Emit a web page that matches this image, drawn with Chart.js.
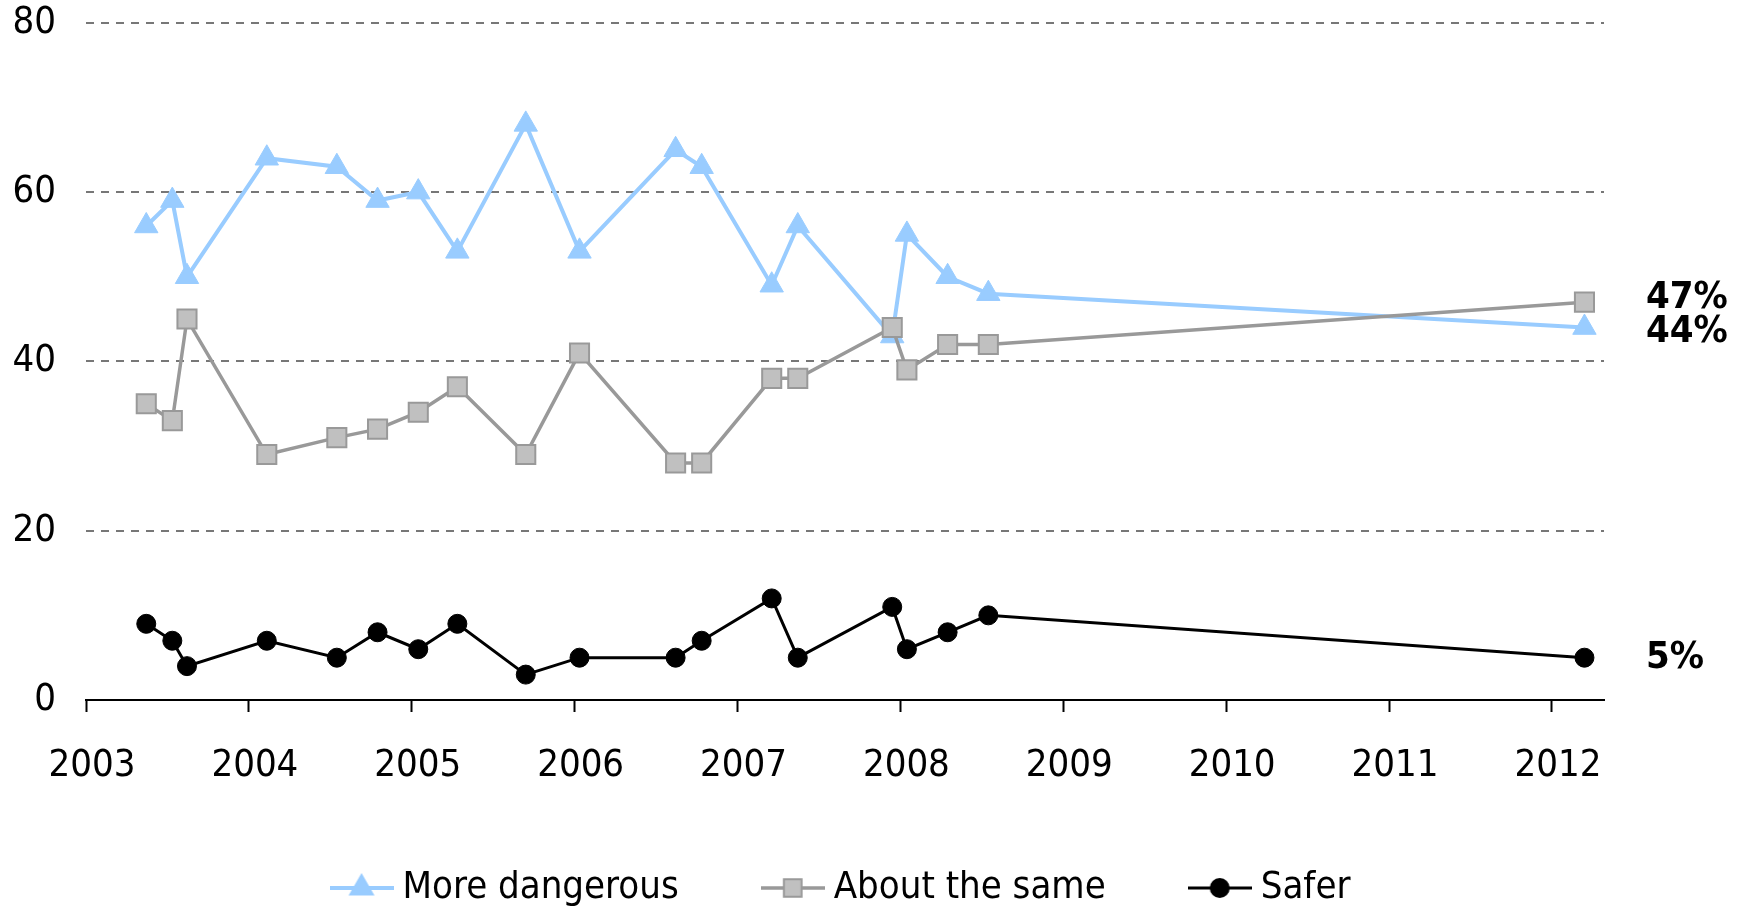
<!DOCTYPE html>
<html>

<head>
    <title>More dangerous / About the same / Safer</title>
    <script src="https://cdn.jsdelivr.net/npm/chart.js"></script>
    <style>
        body { margin: 0; background: #fff; }
        #wrap { width: 1745px; height: 908px; }
    </style>
</head>

<body>
    <div id="wrap"><canvas id="surveyChart"></canvas></div>

    <script>
        // survey dates, as decimal years
        const surveyDates = [2003.37, 2003.53, 2003.62, 2004.11, 2004.54, 2004.79, 2005.04, 2005.28, 2005.70, 2006.03,
            2006.62, 2006.78, 2007.21, 2007.37, 2007.95, 2008.04, 2008.29, 2008.54, 2012.20];
        const moreDangerous = [56, 59, 50, 64, 63, 59, 60, 53, 68, 53, 65, 63, 49, 56, 43, 55, 50, 48, 44];
        const aboutTheSame = [35, 33, 45, 29, 31, 32, 34, 37, 29, 41, 28, 28, 38, 38, 44, 39, 42, 42, 47];
        const safer = [9, 7, 4, 7, 5, 8, 6, 9, 3, 5, 5, 7, 12, 5, 11, 6, 8, 10, 5];
        const seriesNames = ['More dangerous', 'About the same', 'Safer'];
        const yearTicks = [2003, 2004, 2005, 2006, 2007, 2008, 2009, 2010, 2011, 2012];

        const fontFamily = '"DejaVu Sans Condensed", "Liberation Sans", sans-serif';
        Chart.defaults.font.family = fontFamily;
        Chart.defaults.font.size = 38;
        Chart.defaults.color = '#000';

        const toPoints = values => values.map((v, i) => ({ x: surveyDates[i], y: v }));

        // little line + marker pictures for the legend
        function legendIcon(lineColor, lineWidth, style, radius, fill, border) {
            const c = document.createElement('canvas');
            c.width = 64;
            c.height = 30;
            const g = c.getContext('2d');
            g.strokeStyle = lineColor;
            g.lineWidth = lineWidth;
            g.beginPath();
            g.moveTo(0, 15);
            g.lineTo(64, 15);
            g.stroke();
            g.fillStyle = fill;
            g.strokeStyle = border;
            g.lineWidth = 2;
            Chart.helpers.drawPoint(g, { pointStyle: style, radius: radius, borderWidth: 2 }, 32, 15);
            return c;
        }
        const legendIcons = [
            legendIcon('#99CCFF', 4, 'triangle', 13, '#99CCFF', '#99CCFF'),
            legendIcon('#999999', 3.5, 'rect', 12.5, '#C0C0C0', '#999999'),
            legendIcon('#000000', 3, 'circle', 9, '#000000', '#000000')
        ];

        // last value of each series written to the right of the plot,
        // pushed apart a little when two of them would overlap
        const endLabels = {
            id: 'endLabels',
            afterDatasetsDraw(chart) {
                const ctx = chart.ctx;
                const labels = chart.data.datasets.map((ds, i) => {
                    const pts = chart.getDatasetMeta(i).data;
                    return { text: ds.data[ds.data.length - 1].y + '%', y: pts[pts.length - 1].y };
                }).sort((a, b) => a.y - b.y);
                const minGap = 34;
                for (let i = 1; i < labels.length; i++) {
                    const gap = labels[i].y - labels[i - 1].y;
                    if (gap < minGap) {
                        const mid = (labels[i].y + labels[i - 1].y) / 2;
                        labels[i - 1].y = mid - minGap / 2;
                        labels[i].y = mid + minGap / 2;
                    }
                }
                ctx.save();
                ctx.font = 'bold 38px ' + fontFamily;
                ctx.fillStyle = '#000';
                ctx.textAlign = 'left';
                ctx.textBaseline = 'middle';
                labels.forEach(l => ctx.fillText(l.text, chart.chartArea.right + 42, l.y));
                ctx.restore();
            }
        };

        new Chart(document.getElementById('surveyChart'), {
            type: 'line',
            data: {
                datasets: [{
                    label: seriesNames[0],
                    data: toPoints(moreDangerous),
                    borderColor: '#99CCFF',
                    borderWidth: 4,
                    pointStyle: 'triangle',
                    pointRadius: 13.5,
                    pointBackgroundColor: '#99CCFF',
                    pointBorderColor: '#99CCFF',
                    pointBorderWidth: 1,
                    order: 3
                }, {
                    label: seriesNames[1],
                    data: toPoints(aboutTheSame),
                    borderColor: '#999999',
                    borderWidth: 3.5,
                    pointStyle: 'rect',
                    pointRadius: 13.5,
                    pointBackgroundColor: '#C0C0C0',
                    pointBorderColor: '#999999',
                    pointBorderWidth: 2,
                    order: 2
                }, {
                    label: seriesNames[2],
                    data: toPoints(safer),
                    borderColor: '#000000',
                    borderWidth: 3,
                    pointStyle: 'circle',
                    pointRadius: 9.5,
                    pointBackgroundColor: '#000000',
                    pointBorderColor: '#000000',
                    pointBorderWidth: 1,
                    order: 1
                }]
            },
            options: {
                responsive: true,
                maintainAspectRatio: false,
                animation: false,
                tension: 0,
                layout: { padding: { top: 0, right: 141, bottom: -9, left: 0 } },
                scales: {
                    x: {
                        type: 'linear',
                        min: 2003,
                        max: 2012.32,
                        afterBuildTicks: s => { s.ticks = yearTicks.map(v => ({ value: v })); },
                        afterFit: s => { s.height = 77; },
                        border: { display: true, color: '#000', width: 2 },
                        grid: { drawOnChartArea: false, drawTicks: true, tickLength: 12, tickColor: '#000', tickWidth: 2 },
                        ticks: { padding: 31, labelOffset: 6, maxRotation: 0, autoSkip: false, callback: v => String(v) }
                    },
                    y: {
                        min: 0,
                        max: 80,
                        afterFit: s => { s.width = 86; },
                        border: { display: false, dash: [8, 7] },
                        grid: {
                            drawTicks: true,
                            tickLength: 30,
                            tickColor: 'rgba(0,0,0,0)',
                            lineWidth: 2,
                            color: c => c.tick.value === 0 ? 'rgba(0,0,0,0)' : '#777'
                        },
                        ticks: { stepSize: 20, padding: 0 }
                    }
                },
                plugins: {
                    tooltip: { enabled: false },
                    legend: {
                        position: 'bottom',
                        fullSize: false,
                        labels: {
                            usePointStyle: true,
                            pointStyleWidth: 44,
                            padding: 92,
                            color: '#000',
                            generateLabels(chart) {
                                const items = Chart.defaults.plugins.legend.labels.generateLabels(chart);
                                items.forEach(it => { it.pointStyle = legendIcons[it.datasetIndex]; });
                                return items;
                            },
                            sort: (a, b) => a.datasetIndex - b.datasetIndex
                        }
                    }
                }
            },
            plugins: [endLabels]
        });
    </script>
</body>

</html>
